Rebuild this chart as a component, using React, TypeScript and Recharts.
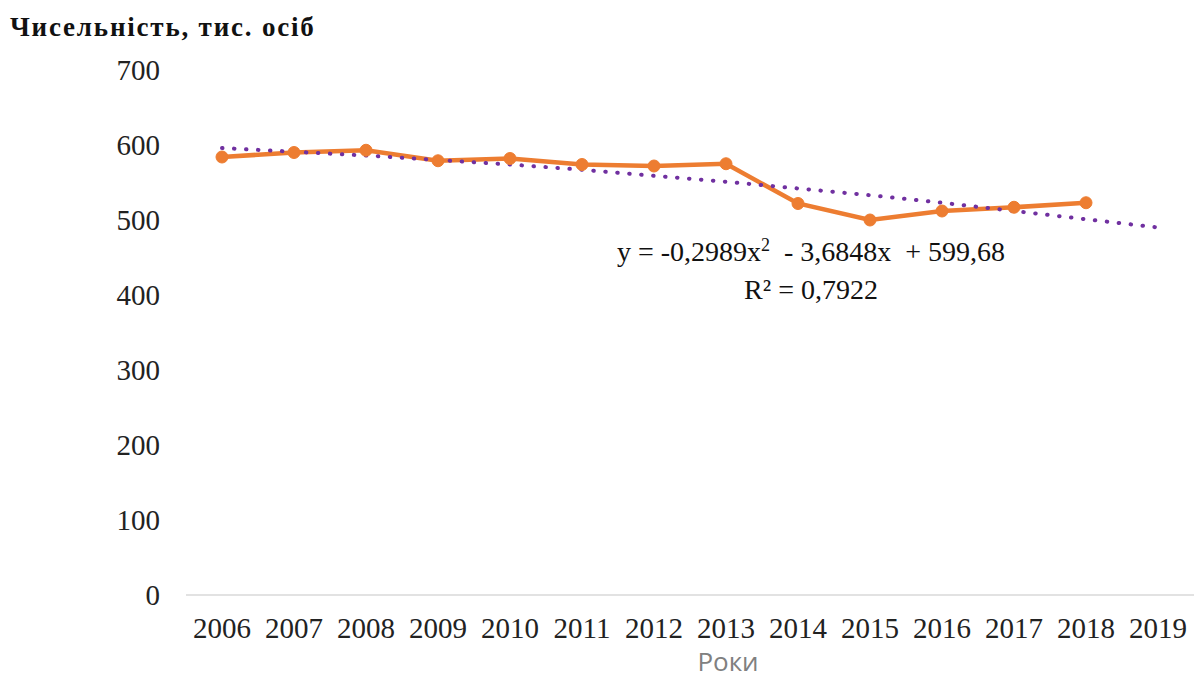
import React from 'react';
import { LineChart, Line, XAxis, YAxis } from 'recharts';

// роки та чисельність (тис. осіб)
const years = ['2006', '2007', '2008', '2009', '2010', '2011', '2012', '2013', '2014', '2015', '2016', '2017', '2018', '2019'];
const population = [584, 590, 593, 579, 582, 574, 572, 575, 522, 500, 512, 517, 523];
// поліноміальний тренд, як читається з графіка
const trend = [596, 591, 586, 580, 574, 567, 559, 551, 542, 533, 523, 512, 501, 490];
const yTicks = [0, 100, 200, 300, 400, 500, 600, 700];

const data = years.map((year, i) => ({
  year,
  value: i < population.length ? population[i] : null,
  trend: trend[i],
}));

const serif = '"Liberation Serif", "Times New Roman", serif';

const App: React.FC = () => {
  return (
    <div
      style={{
        position: 'fixed',
        left: 0,
        top: 0,
        width: 1194,
        height: 679,
        background: '#fff',
        fontFamily: serif,
      }}
    >
      {/* Title */}
      <div
        style={{
          position: 'absolute',
          left: 10,
          top: 12,
          fontSize: 27,
          fontWeight: 'bold',
          color: '#111',
          letterSpacing: 1.8,
          whiteSpace: 'nowrap',
        }}
      >
        Чисельність, тис. осіб
      </div>

      <LineChart width={1194} height={679} data={data} margin={{ top: 70, right: 0, bottom: 0, left: 0 }}>
        <XAxis
          dataKey="year"
          height={84}
          interval={0}
          padding={{ left: 36, right: 36 }}
          axisLine={{ stroke: '#d9d9d9', strokeWidth: 1.5 }}
          tickLine={false}
          tickSize={0}
          tickMargin={22}
          tick={{ fill: '#222', fontSize: 29, fontFamily: serif }}
          label={{
            value: 'Роки',
            position: 'insideBottom',
            offset: 8,
            dx: 38,
            fill: '#808080',
            fontSize: 26,
            fontFamily: '"Open Sans", "Noto Sans", sans-serif',
          }}
        />
        <YAxis
          width={186}
          domain={[0, 700]}
          ticks={yTicks}
          axisLine={false}
          tickLine={false}
          tickSize={0}
          tickMargin={26}
          tick={{ fill: '#222', fontSize: 29, fontFamily: serif }}
        />
        <Line
          dataKey="value"
          stroke="#ED7D31"
          strokeWidth={4.5}
          dot={{ r: 6, fill: '#ED7D31', stroke: '#ED7D31', strokeWidth: 1 }}
          activeDot={false}
          isAnimationActive={false}
        />
        <Line
          dataKey="trend"
          stroke="#7030A0"
          strokeWidth={4}
          strokeDasharray="0.5 11.5"
          strokeLinecap="round"
          dot={false}
          activeDot={false}
          isAnimationActive={false}
        />
      </LineChart>

      {/* Trendline equation */}
      <div
        style={{
          position: 'absolute',
          left: 561,
          top: 233,
          width: 500,
          textAlign: 'center',
          fontSize: 28,
          lineHeight: '38px',
          color: '#111',
          whiteSpace: 'pre',
        }}
      >
        <div>
          {'y = -0,2989x'}
          <sup style={{ fontSize: 18, verticalAlign: 'top', lineHeight: '24px' }}>2</sup>
          {'  - 3,6848x  + 599,68'}
        </div>
        <div>R² = 0,7922</div>
      </div>
    </div>
  );
};

export default App;
